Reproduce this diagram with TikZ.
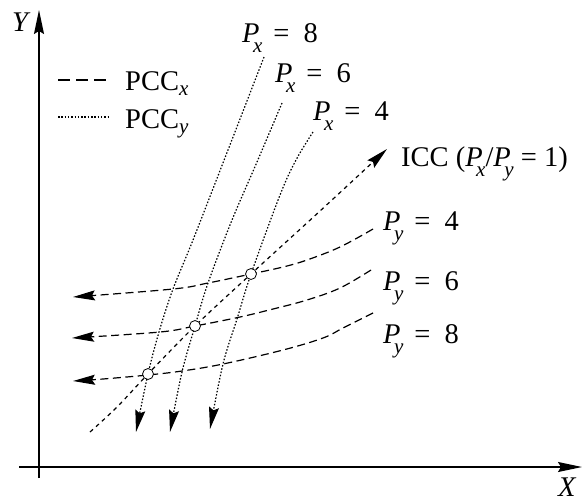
\documentclass[tikz,border=0pt]{standalone}
\usepackage{fontspec}
\setmainfont{Liberation Serif}
\usetikzlibrary{arrows.meta}
\newcommand\subsz{\fontsize{21}{21}\selectfont}
\newcommand\PP[1]{\textit{P}\kern-6.5pt\raisebox{-10pt}{\subsz\textit{#1}}}
\newcommand\PCCsub[1]{PCC\raisebox{-5pt}{\subsz\textit{#1}}}
\newcommand\PEq[2]{\PP{#1}\hspace{11pt}=\hspace{14pt}#2}
\begin{document}
\begin{tikzpicture}[x=1pt,y=-1pt,
  lbl/.style={anchor=base west,inner sep=0pt,font=\fontsize{28.5}{32}\selectfont},
  axisline/.style={line width=1.4pt,-{Stealth[length=24pt,width=10pt,inset=3pt]}},
  tipped/.style={-{Stealth[length=22pt,width=10pt,inset=3pt]}},
  pccx/.style={line width=1.2pt,dash pattern=on 8pt off 4.5pt},
  pccy/.style={line width=1.2pt,dash pattern=on 1.5pt off 1.8pt},
  icc/.style={line width=1.2pt,dash pattern=on 4pt off 4pt},
  eq/.style={circle,draw,fill=white,line width=0.8pt,minimum size=11pt,inner sep=0pt}]
\useasboundingbox (0,0) rectangle (585,499);
% axes
\coordinate (y0) at (39,478);
\coordinate (y1) at (39,10);
\coordinate (x0) at (19,467);
\coordinate (x1) at (582,467);
\draw[axisline] (y0) -- (y1);
\draw[axisline] (x0) -- (x1);
\node[lbl] (ylab) at (12,31) {\textit{Y}};
\node[lbl] (xlab) at (558,496) {\textit{X}};
% legend
\coordinate (la) at (58,80); \coordinate (lb) at (108,80);
\coordinate (lc) at (58,117); \coordinate (ld) at (108,117);
\draw[line width=1.1pt,dash pattern=on 12pt off 6pt] (la) -- (lb);
\draw[pccy] (lc) -- (ld);
\node[lbl] (leg1) at (125,90) {\PCCsub{x}};
\node[lbl] (leg2) at (125,128) {\PCCsub{y}};
% PCC_y (P_x curves)
\draw[pccy,tipped] plot[smooth,tension=0.55] coordinates
  {(264,57) (228,150) (193,240) (173,289) (159,332) (148,374) (136,432)};
\draw[pccy,tipped] plot[smooth,tension=0.55] coordinates
  {(282,103) (257,162) (232,220) (208,283) (195,326) (182,372) (170,432)};
\draw[pccy,tipped] plot[smooth,tension=0.55] coordinates
  {(313,132) (296,160) (280,195) (251,274) (237,319) (223,364) (210,429)};
% PCC_x (P_y curves)
\draw[pccx,tipped] plot[smooth,tension=0.6] coordinates
  {(373,229) (340,247) (307,260) (283,267) (251,274) (208,283) (173,289) (73,297)};
\draw[pccx,tipped] plot[smooth,tension=0.6] coordinates
  {(371,270) (340,288) (307,300) (273,309) (240,317) (195,326) (160,332) (72,338)};
\draw[pccx,tipped] plot[smooth,tension=0.6] coordinates
  {(373,313) (343,328) (323,338) (283,350) (223,364) (182,371) (148,375) (103,379) (73,381)};
% ICC
\draw[icc,tipped] plot[smooth,tension=0.6] coordinates
  {(90,432) (117,407) (148,374) (195,326) (251,274) (320,211) (387,149)};
% equilibrium points
\node[eq] (e1) at (148,374) {};
\node[eq] (e2) at (195,326) {};
\node[eq] (e3) at (251,274) {};
% labels
\node[lbl] (px8) at (242,42) {\PEq{x}{8}};
\node[lbl] (px6) at (275,82) {\PEq{x}{6}};
\node[lbl] (px4) at (313,120) {\PEq{x}{4}};
\node[lbl] (icclab) at (401,166) {ICC (\PP{x}/\PP{y} = 1)};
\node[lbl] (py4) at (383,230) {\PEq{y}{4}};
\node[lbl] (py6) at (383,290) {\PEq{y}{6}};
\node[lbl] (py8) at (383,343) {\PEq{y}{8}};
\end{tikzpicture}
\end{document}
